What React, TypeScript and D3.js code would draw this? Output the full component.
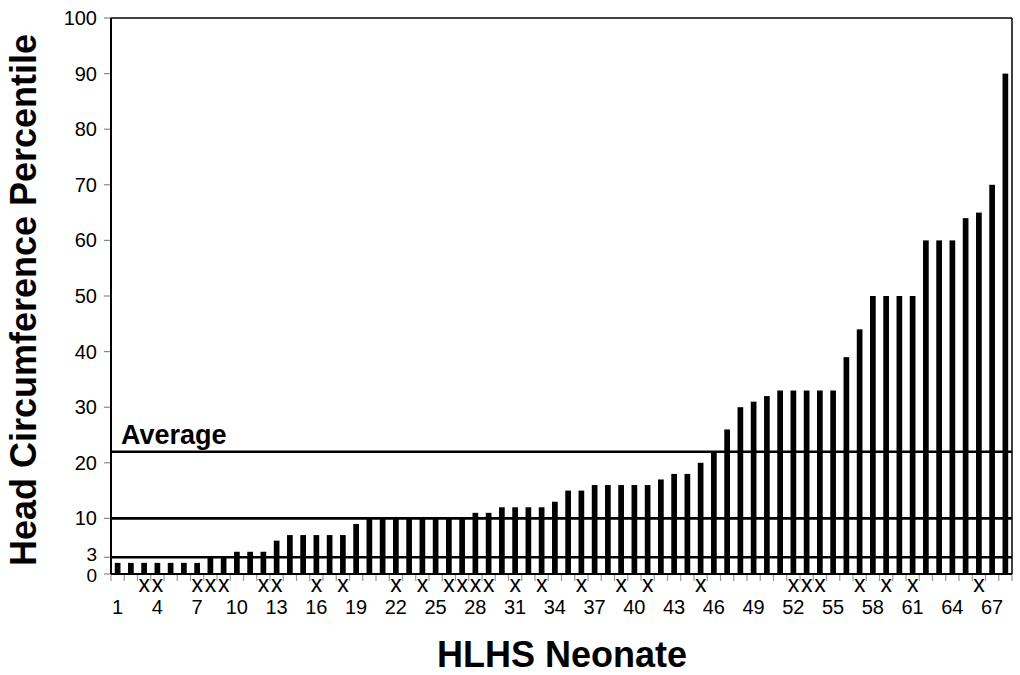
import React from "react";
import * as d3 from "d3";

const neonates: number[] = d3.range(1, 69);
const percentiles: number[] = [
  2, 2, 2, 2, 2, 2, 2, 3, 3, 4,
  4, 4, 6, 7, 7, 7, 7, 7, 9, 10,
  10, 10, 10, 10, 10, 10, 10, 11, 11, 12,
  12, 12, 12, 13, 15, 15, 16, 16, 16, 16,
  16, 17, 18, 18, 20, 22, 26, 30, 31, 32,
  33, 33, 33, 33, 33, 39, 44, 50, 50, 50,
  50, 60, 60, 60, 64, 65, 70, 90,
];
const markedNeonates: number[] = [
  3, 4, 7, 8, 9, 12, 13, 16, 18, 22, 24, 26, 27, 28, 29, 31, 33, 36, 39, 41,
  45, 52, 53, 54, 57, 59, 61, 66,
];
const xTickLabels: number[] = [1, 4, 7, 10, 13, 16, 19, 22, 25, 28, 31, 34, 37, 40, 43, 46, 49, 52, 55, 58, 61, 64, 67];
const yTickValues: number[] = [0, 3, 10, 20, 30, 40, 50, 60, 70, 80, 90, 100];
const referenceLines: number[] = [3, 10, 22];
const averageLabel = "Average";
const averageValue = 22;

const W = 1020;
const H = 675;
const M = { left: 111, right: 1012, top: 18, bottom: 574 };
const FONT = "'Liberation Sans', Arial, Helvetica, sans-serif";

export default function App() {
  const x = d3
    .scaleBand<number>()
    .domain(neonates)
    .range([M.left, M.right])
    .paddingInner(0.57)
    .paddingOuter(0.285);
  const y = d3.scaleLinear().domain([0, 100]).range([M.bottom, M.top]);
  const bw = x.bandwidth();
  const cx = (n: number) => (x(n) as number) + bw / 2;
  const boundaries = d3.range(0, neonates.length + 1).map((i) => M.left + i * ((M.right - M.left) / neonates.length));
  const tickNudge = (v: number) => (v === 3 ? -3 : v === 0 ? 1 : 0);

  return (
    <svg
      width={W}
      height={H}
      style={{ position: "absolute", left: 0, top: 0, background: "#fff" }}
      fontFamily={FONT}
    >
      <rect x={0} y={0} width={W} height={H} fill="#fff" />
      {neonates.map((n, i) => (
        <rect
          key={n}
          x={x(n)}
          y={y(percentiles[i])}
          width={bw}
          height={y(0) - y(percentiles[i])}
          fill="#000"
        />
      ))}
      {referenceLines.map((v) => (
        <line key={v} x1={M.left} x2={M.right} y1={y(v)} y2={y(v)} stroke="#000" strokeWidth={2.6} />
      ))}
      <text x={121} y={y(averageValue) - 8} fontSize={27} fontWeight="bold" fill="#000">
        {averageLabel}
      </text>
      <line x1={M.left} x2={M.right} y1={M.top} y2={M.top} stroke="#000" strokeWidth={1.5} />
      <line x1={M.right} x2={M.right} y1={M.top} y2={M.bottom} stroke="#000" strokeWidth={1.5} />
      {yTickValues.map((v) => (
        <g key={v}>
          <line x1={M.left - 7} x2={M.left} y1={y(v)} y2={y(v)} stroke="#888" strokeWidth={1.2} />
          <text
            x={97}
            y={y(v) + tickNudge(v)}
            dy="0.35em"
            textAnchor="end"
            fontSize={v === 0 || v === 3 ? 19 : 20}
            fill="#000"
          >
            {v}
          </text>
        </g>
      ))}
      {boundaries.map((bx, i) => (
        <line key={i} x1={bx} x2={bx} y1={M.bottom} y2={M.bottom + 7} stroke="#999" strokeWidth={1.2} />
      ))}
      {xTickLabels.map((n) => (
        <text key={n} x={cx(n)} y={614} textAnchor="middle" fontSize={20} fill="#000">
          {n}
        </text>
      ))}
      {markedNeonates.map((n) => (
        <text key={"m" + n} x={cx(n)} y={592} textAnchor="middle" fontSize={23} fill="#000">
          x
        </text>
      ))}
      <line x1={M.left} x2={M.left} y1={M.top} y2={M.bottom} stroke="#000" strokeWidth={2} />
      <line x1={M.left} x2={M.right} y1={M.bottom} y2={M.bottom} stroke="#000" strokeWidth={2} />
      <text x={562} y={667} textAnchor="middle" fontSize={36} fontWeight="bold" fill="#000">
        HLHS Neonate
      </text>
      <text
        transform={`translate(36,300) rotate(-90)`}
        textAnchor="middle"
        fontSize={36}
        fontWeight="bold"
        fill="#000"
      >
        Head Circumference Percentile
      </text>
    </svg>
  );
}
